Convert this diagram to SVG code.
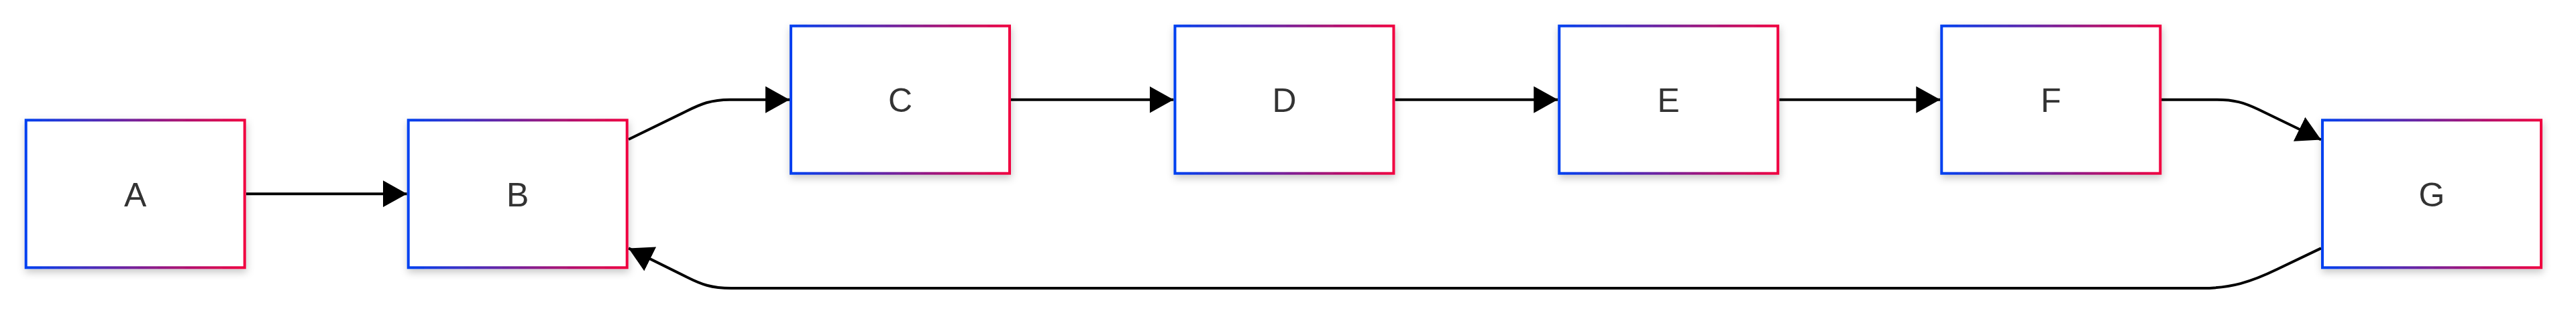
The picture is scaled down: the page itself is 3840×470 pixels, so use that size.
<svg xmlns="http://www.w3.org/2000/svg" width="3840" height="470" viewBox="0 0 3840 470">
  <defs>
    <linearGradient id="grad" x1="0" y1="0" x2="1" y2="0">
      <stop offset="0" stop-color="#0040f0"/>
      <stop offset="1" stop-color="#f00040"/>
    </linearGradient>
    <filter id="shadow" x="-10%" y="-15%" width="120%" height="135%">
      <feDropShadow dx="1" dy="5" stdDeviation="6" flood-color="#000" flood-opacity="0.22"/>
    </filter>
    <marker id="arrow" markerUnits="userSpaceOnUse" viewBox="0 0 36 40" markerWidth="36" markerHeight="40" refX="36" refY="20" orient="auto">
      <path d="M0,0 L36,20 L0,40 Z" fill="#000"/>
    </marker>
  </defs>
  <style>
    .node rect { fill: #ffffff; stroke: url(#grad); stroke-width: 4; filter: url(#shadow); }
    .node text { font-family: "Liberation Sans", Arial, sans-serif; font-size: 50px; fill: #333333; text-anchor: middle; }
    .edge { fill: none; stroke: #000000; stroke-width: 4; marker-end: url(#arrow); }
  </style>
  <rect width="3840" height="470" fill="#ffffff"/>
  <g id="connectors">
    <path class="edge" d="M367,289.2 L606.7,289.2"/>
    <path class="edge" d="M937,208 L1022,166.5 C1045,155 1060,148.7 1088,148.7 L1177,148.7"/>
    <path class="edge" d="M1507,148.7 L1749.5,148.7"/>
    <path class="edge" d="M2079.5,148.7 L2322.3,148.7"/>
    <path class="edge" d="M2652.3,148.7 L2892.3,148.7"/>
    <path class="edge" d="M3222,148.7 L3305,148.7 C3330,148.7 3345,153 3366,163 L3460,208.5"/>
    <path class="edge" d="M3460,370.4 L3395,401.5 C3355,421 3325,430 3283,430 L1090,430 C1060,430 1045,424 1025,414 L937,370.4"/>
  </g>
  <g id="node-A" class="node">
    <rect x="38.7" y="179.3" width="326" height="220"/>
    <text x="201.7" y="307.7">A</text>
  </g>
  <g id="node-B" class="node">
    <rect x="608.7" y="179.3" width="326" height="220"/>
    <text x="771.7" y="307.7">B</text>
  </g>
  <g id="node-C" class="node">
    <rect x="1179" y="38.7" width="326" height="220"/>
    <text x="1342" y="167.2">C</text>
  </g>
  <g id="node-D" class="node">
    <rect x="1751.5" y="38.7" width="326" height="220"/>
    <text x="1914.5" y="167.2">D</text>
  </g>
  <g id="node-E" class="node">
    <rect x="2324.3" y="38.7" width="326" height="220"/>
    <text x="2487.3" y="167.2">E</text>
  </g>
  <g id="node-F" class="node">
    <rect x="2894.3" y="38.7" width="326" height="220"/>
    <text x="3057.3" y="167.2">F</text>
  </g>
  <g id="node-G" class="node">
    <rect x="3462" y="179.3" width="326" height="220"/>
    <text x="3625" y="307.7">G</text>
  </g>
</svg>
